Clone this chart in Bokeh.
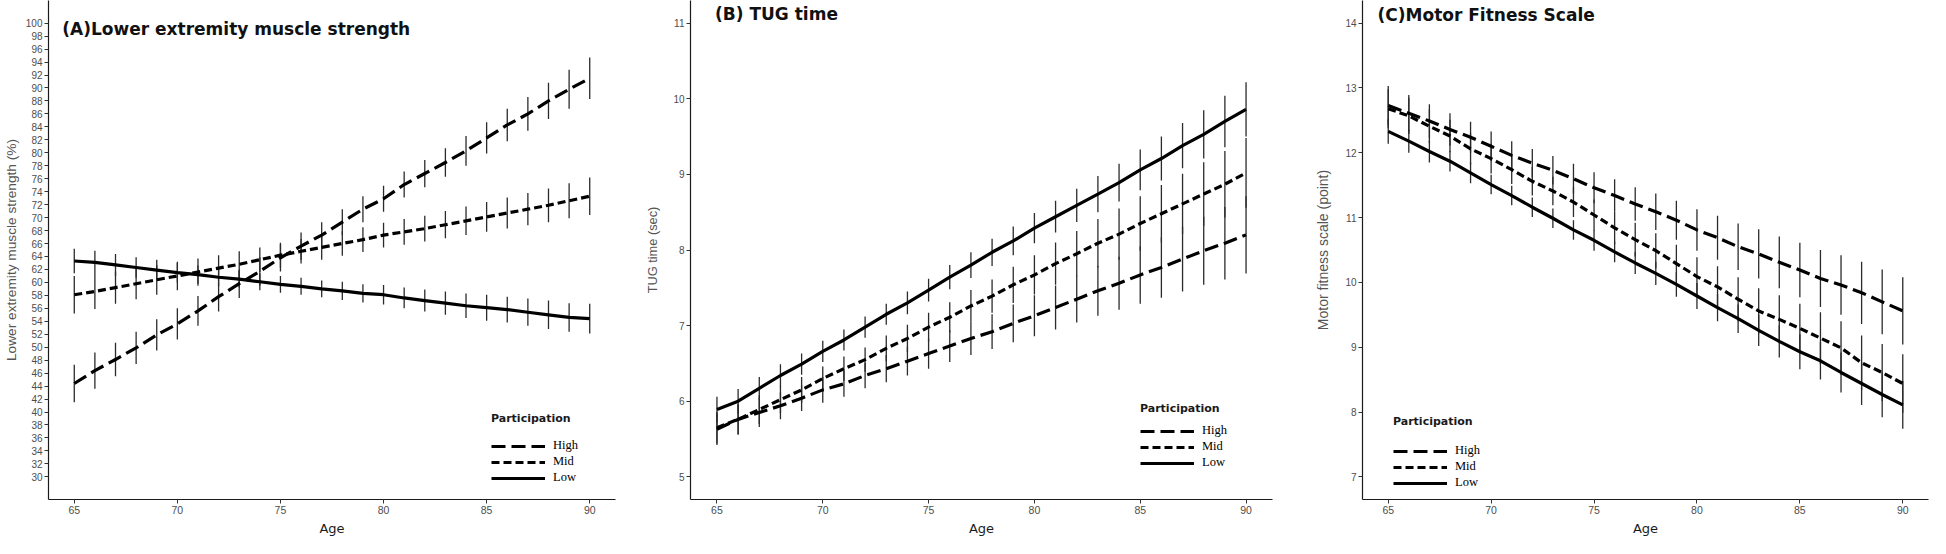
from bokeh.plotting import figure
from bokeh.models import Range1d, FixedTicker, Legend, LegendItem, Label
from bokeh.layouts import row
from bokeh.embed import file_html
from bokeh.resources import INLINE

# ---------------- data ----------------
ages = list(range(65, 91))
groups = ["High", "Mid", "Low"]
x_ticks = [65, 70, 75, 80, 85, 90]

# (A) Lower extremity muscle strength (%)
a_high = [44.4, 46.4, 48.1, 49.9, 51.9, 53.6, 55.6, 57.8, 59.8, 61.7, 63.8, 65.6, 67.3,
          69.3, 71.3, 72.9, 75.1, 76.8, 78.5, 80.3, 82.3, 84.3, 86.0, 88.0, 89.8, 91.5]
a_mid = [58.1, 58.6, 59.2, 59.8, 60.4, 61.0, 61.6, 62.2, 62.8, 63.5, 64.2, 64.8, 65.4,
         66.0, 66.6, 67.3, 67.8, 68.3, 68.9, 69.5, 70.1, 70.7, 71.3, 71.9, 72.6, 73.3]
a_low = [63.3, 63.1, 62.7, 62.3, 61.9, 61.5, 61.2, 60.8, 60.5, 60.1, 59.7, 59.4, 59.0,
         58.7, 58.3, 58.1, 57.6, 57.2, 56.8, 56.4, 56.1, 55.8, 55.4, 55.0, 54.6, 54.4]
a_high_err = [2.9, 2.8, 2.6, 2.5, 2.4, 2.4, 2.3, 2.3, 2.2, 2.2, 2.1, 2.1, 2.0,
              2.0, 2.0, 2.0, 2.0, 2.1, 2.2, 2.3, 2.4, 2.5, 2.6, 2.8, 3.0, 3.2]
a_mid_err = [2.9, 2.7, 2.5, 2.4, 2.3, 2.2, 2.1, 2.0, 2.0, 1.9, 1.9, 1.9, 1.9,
             1.9, 1.9, 1.9, 2.0, 2.0, 2.1, 2.2, 2.3, 2.4, 2.5, 2.6, 2.7, 2.9]
a_low_err = [1.9, 1.8, 1.7, 1.6, 1.6, 1.5, 1.4, 1.4, 1.3, 1.3, 1.3, 1.3, 1.3,
             1.4, 1.4, 1.5, 1.6, 1.7, 1.8, 1.9, 2.0, 2.0, 2.1, 2.2, 2.2, 2.3]
a_yticks = list(range(30, 101, 2))

# (B) TUG time (sec)
b_high = [5.63, 5.76, 5.85, 5.94, 6.04, 6.15, 6.23, 6.34, 6.43, 6.53, 6.63, 6.73, 6.83,
          6.92, 7.03, 7.13, 7.24, 7.35, 7.46, 7.56, 7.67, 7.77, 7.88, 7.99, 8.09, 8.20]
b_mid = [5.65, 5.76, 5.89, 6.02, 6.15, 6.30, 6.43, 6.55, 6.70, 6.83, 6.98, 7.11, 7.26,
         7.39, 7.54, 7.67, 7.82, 7.95, 8.09, 8.21, 8.35, 8.48, 8.61, 8.74, 8.87, 9.02]
b_low = [5.89, 6.00, 6.17, 6.34, 6.49, 6.66, 6.81, 6.98, 7.15, 7.30, 7.47, 7.64, 7.80,
         7.97, 8.12, 8.29, 8.44, 8.59, 8.74, 8.89, 9.06, 9.21, 9.38, 9.53, 9.70, 9.86]
b_high_err = [0.21, 0.20, 0.19, 0.18, 0.17, 0.17, 0.17, 0.17, 0.18, 0.19, 0.20, 0.21, 0.22,
              0.23, 0.25, 0.27, 0.29, 0.31, 0.33, 0.35, 0.38, 0.40, 0.43, 0.45, 0.48, 0.51]
b_mid_err = [0.21, 0.20, 0.19, 0.18, 0.17, 0.16, 0.16, 0.16, 0.17, 0.18, 0.19, 0.20, 0.21,
             0.22, 0.24, 0.26, 0.28, 0.30, 0.32, 0.34, 0.36, 0.38, 0.40, 0.42, 0.44, 0.46]
b_low_err = [0.17, 0.16, 0.15, 0.15, 0.14, 0.14, 0.14, 0.14, 0.14, 0.15, 0.15, 0.16, 0.17,
             0.18, 0.19, 0.20, 0.21, 0.22, 0.24, 0.25, 0.27, 0.29, 0.30, 0.32, 0.34, 0.36]
b_yticks = [5, 6, 7, 8, 9, 10, 11]

# (C) Motor fitness scale (point)
c_high = [12.73, 12.61, 12.49, 12.36, 12.24, 12.10, 11.96, 11.84, 11.73, 11.60, 11.46, 11.34, 11.21,
          11.09, 10.96, 10.81, 10.69, 10.55, 10.44, 10.31, 10.19, 10.06, 9.96, 9.84, 9.70, 9.56]
c_mid = [12.68, 12.57, 12.41, 12.26, 12.06, 11.91, 11.74, 11.56, 11.41, 11.24, 11.04, 10.84, 10.66,
         10.49, 10.29, 10.09, 9.93, 9.74, 9.56, 9.43, 9.29, 9.14, 8.99, 8.76, 8.61, 8.44]
c_low = [12.33, 12.18, 12.02, 11.87, 11.69, 11.51, 11.34, 11.16, 10.99, 10.81, 10.65, 10.47, 10.30,
         10.14, 9.97, 9.79, 9.61, 9.44, 9.26, 9.09, 8.93, 8.79, 8.61, 8.44, 8.27, 8.11]
c_high_err = [0.30, 0.28, 0.26, 0.25, 0.24, 0.23, 0.22, 0.22, 0.22, 0.23, 0.24, 0.25, 0.26,
              0.28, 0.30, 0.32, 0.34, 0.36, 0.38, 0.40, 0.42, 0.44, 0.46, 0.48, 0.50, 0.52]
c_mid_err = [0.30, 0.28, 0.26, 0.25, 0.24, 0.23, 0.22, 0.22, 0.22, 0.23, 0.24, 0.25, 0.26,
             0.27, 0.29, 0.30, 0.32, 0.34, 0.35, 0.37, 0.38, 0.40, 0.41, 0.42, 0.44, 0.45]
c_low_err = [0.19, 0.18, 0.17, 0.16, 0.16, 0.15, 0.15, 0.15, 0.15, 0.15, 0.16, 0.16, 0.17,
             0.18, 0.19, 0.20, 0.21, 0.22, 0.24, 0.25, 0.27, 0.29, 0.31, 0.33, 0.35, 0.37]
c_yticks = [7, 8, 9, 10, 11, 12, 13, 14]

# ---------------- styling ----------------
DASHES = {"High": "14 6", "Mid": "8 4", "Low": "solid"}
TICK_FONT = "Liberation Sans"
HEAD_FONT = "DejaVu Sans"


def make_panel(width, y_range, y_ticks, y_label, y_label_size, title, title_x, title_y,
               series, errors, border_left, border_right, label_standoff,
               legend_loc, legend_title_standoff):
    p = figure(width=width, height=538,
               x_range=Range1d(63.75, 91.25), y_range=Range1d(*y_range),
               output_backend="svg", toolbar_location=None,
               min_border_left=border_left, min_border_right=border_right,
               min_border_top=0, min_border_bottom=38)
    p.outline_line_color = None
    p.grid.visible = False
    p.background_fill_color = "white"
    p.border_fill_color = "white"

    for ax in (p.xaxis[0], p.yaxis[0]):
        ax.axis_line_color = "#1a1a1a"
        ax.axis_line_width = 1.2
        ax.major_tick_line_color = "#333333"
        ax.major_tick_line_width = 1
        ax.major_tick_out = 4
        ax.major_tick_in = 0
        ax.minor_tick_line_color = None
        ax.major_label_text_font = TICK_FONT
        ax.major_label_text_color = "#4d4d4d"
        ax.major_label_standoff = 2

    p.xaxis.ticker = FixedTicker(ticks=x_ticks)
    p.xaxis.major_label_text_font_size = "10.5px"
    p.xaxis.axis_label = "Age"
    p.xaxis.axis_label_text_font = HEAD_FONT
    p.xaxis.axis_label_text_font_style = "normal"
    p.xaxis.axis_label_text_font_size = "13px"
    p.xaxis.axis_label_text_color = "#1a1a1a"
    p.xaxis.axis_label_standoff = 4

    p.yaxis.ticker = FixedTicker(ticks=y_ticks)
    p.yaxis.major_label_text_font_size = "10px"
    p.yaxis.axis_label = y_label
    p.yaxis.axis_label_text_font = TICK_FONT
    p.yaxis.axis_label_text_font_style = "normal"
    p.yaxis.axis_label_text_font_size = y_label_size
    p.yaxis.axis_label_text_color = "#555555"
    p.yaxis.axis_label_standoff = label_standoff

    # error bars
    for vals, err in zip(series, errors):
        lo = [v - e for v, e in zip(vals, err)]
        hi = [v + e for v, e in zip(vals, err)]
        p.segment(x0=ages, y0=lo, x1=ages, y1=hi, line_color="#2b2b2b", line_width=1.3)

    # lines
    items = []
    for name, vals in zip(groups, series):
        r = p.line(ages, vals, line_color="black", line_width=3.2,
                   line_dash=DASHES[name], line_cap="butt")
        items.append(LegendItem(label=name, renderers=[r]))

    legend = Legend(items=items, location=legend_loc,
                    title="Participation", title_text_font=HEAD_FONT,
                    title_text_font_style="bold", title_text_font_size="11px",
                    title_text_color="#1a1a1a", title_standoff=legend_title_standoff,
                    label_text_font="Liberation Serif", label_text_font_size="12.5px",
                    label_text_line_height=1.0, label_text_color="black",
                    glyph_width=54, glyph_height=14, label_height=14, spacing=1,
                    label_standoff=8, padding=0, margin=0,
                    border_line_alpha=0, background_fill_alpha=0)
    p.add_layout(legend)

    p.add_layout(Label(x=title_x, y=title_y, text=title, text_font=HEAD_FONT,
                       text_font_style="bold", text_font_size="17px",
                       text_baseline="middle", text_align="left", text_color="#111111"))
    return p


pA = make_panel(642, (26.5, 103.5), a_yticks, "Lower extremity muscle strength (%)", "13.7px",
                "(A)Lower extremity muscle strength", 64.42, 99.1,
                [a_high, a_mid, a_low], [a_high_err, a_mid_err, a_low_err],
                42, 27, 4, (443, 14), 13)
pB = make_panel(670, (4.7, 11.3), b_yticks, "TUG time (sec)", "12.8px",
                "(B) TUG time", 64.91, 11.12,
                [b_high, b_mid, b_low], [b_high_err, b_mid_err, b_low_err],
                47, 40, 10, (450, 29), 8)
pC = make_panel(618, (6.65, 14.35), c_yticks, "Motor fitness scale (point)", "14px",
                "(C)Motor Fitness Scale", 64.48, 14.13,
                [c_high, c_mid, c_low], [c_high_err, c_mid_err, c_low_err],
                41, 2, 11, (31, 9), 15)

layout = row(pA, pB, pC)
open("out.html", "w").write(file_html(layout, INLINE))
